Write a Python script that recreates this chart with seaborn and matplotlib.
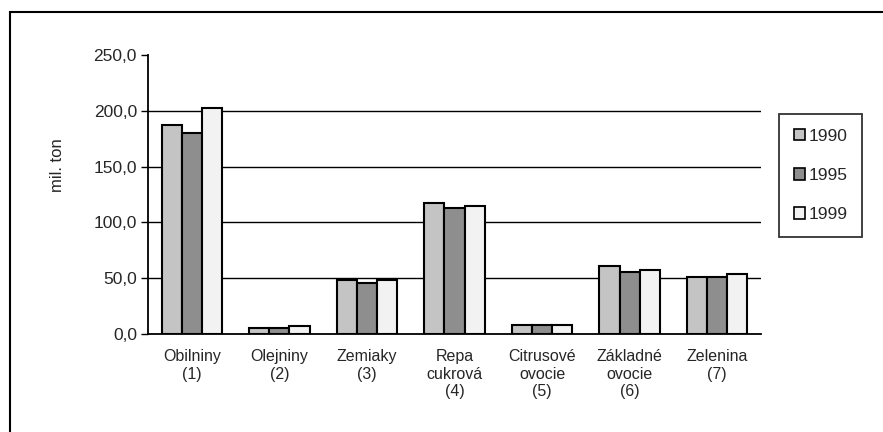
import matplotlib
matplotlib.use("Agg")
import matplotlib.pyplot as plt
import matplotlib.patches as mpatches
from matplotlib.ticker import FuncFormatter, MultipleLocator, FixedLocator
import seaborn as sns
import pandas as pd

categories = ["Obilniny\n(1)", "Olejniny\n(2)", "Zemiaky\n(3)", "Repa\ncukrová\n(4)",
              "Citrusové\novocie\n(5)", "Základné\novocie\n(6)", "Zelenina\n(7)"]
years = ["1990", "1995", "1999"]
v1990 = [187.5, 5.5, 48.5, 117.5, 8.0, 61.0, 51.5]
v1995 = [180.0, 5.0, 45.5, 112.5, 8.0, 56.0, 51.0]
v1999 = [202.5, 7.0, 48.5, 115.0, 8.0, 57.5, 53.5]
colors = ["#c4c4c4", "#8e8e8e", "#f2f2f2"]

rows = []
for year, vals in zip(years, [v1990, v1995, v1999]):
    for cat, v in zip(categories, vals):
        rows.append({"cat": cat, "year": year, "val": v})
df = pd.DataFrame(rows)

sns.set_style("white")
plt.rcParams['font.family'] = ['Liberation Sans', 'DejaVu Sans']

fig = plt.figure(figsize=(8.83, 4.32), dpi=100)
ax = fig.add_axes([148/883, 1-334/432, (761-148)/883, (334-55)/432])

### horizontal grid lines (none at the top value)
for g in [50, 100, 150, 200]:
    ax.axhline(g, color="black", linewidth=1.0, zorder=0)

sns.barplot(data=df, x="cat", y="val", hue="year", palette=colors, width=0.69,
            edgecolor="black", linewidth=1.5, legend=False, ax=ax, saturation=1, zorder=2)

ax.set_ylim(0, 250)
ax.set_xlim(-0.5, len(categories) - 0.5)
ax.yaxis.set_major_locator(MultipleLocator(50))
ax.yaxis.set_major_formatter(FuncFormatter(lambda v, p: f"{v:.1f}".replace(".", ",")))
ax.grid(False)

ax.set_xticks(range(len(categories)), categories, linespacing=1.2)
ax.xaxis.set_minor_locator(FixedLocator([i - 0.5 for i in range(len(categories) + 1)]))
ax.tick_params(axis="x", which="major", length=0, pad=11, labelsize=11.5)
ax.tick_params(axis="x", which="minor", length=5, width=1, direction="out", color="black")
ax.tick_params(axis="y", length=5, width=1, direction="out", color="black", labelsize=12.5, left=True, pad=3)

for s in ["top", "right"]:
    ax.spines[s].set_visible(False)
for s in ["left", "bottom"]:
    ax.spines[s].set_color("black")
    ax.spines[s].set_linewidth(1.3)

ax.set_xlabel("")
ax.set_ylabel("")
fig.text(57/883, 1-165/432, "mil. ton", rotation=90, ha="center", va="center", fontsize=12)

handles = [mpatches.Patch(facecolor=c, edgecolor="black", linewidth=1.2, label=y)
           for c, y in zip(colors, years)]
leg = fig.legend(handles=handles, loc="upper left", bbox_to_anchor=(779/883, 1-114/432),
                 frameon=True, fontsize=12.5, handlelength=0.65, handleheight=0.65,
                 handletextpad=0.2, labelspacing=1.4, borderpad=0.85, borderaxespad=0)
leg.get_frame().set_edgecolor("black")
leg.get_frame().set_linewidth(1.3)
leg.get_frame().set_boxstyle("square", pad=0)

frame = mpatches.Rectangle((10/883, -0.1), 1.2, 1-12/432+0.1, transform=fig.transFigure,
                           fill=False, edgecolor="black", linewidth=1.5)
fig.patches.append(frame)

fig.savefig("out.png", dpi=100)
